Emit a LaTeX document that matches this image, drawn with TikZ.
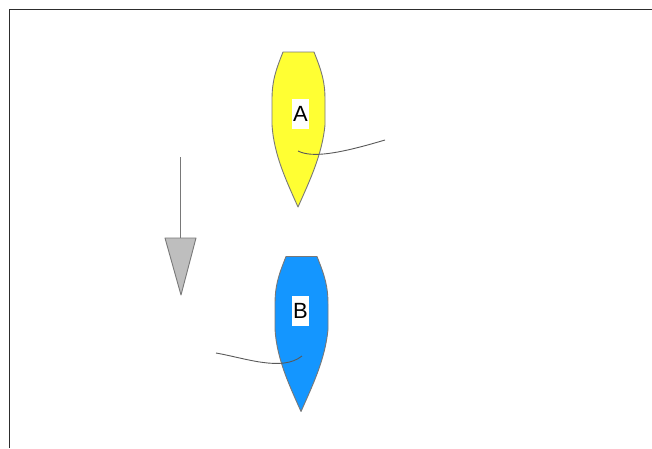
\documentclass[tikz,border=0pt]{standalone}
\usepackage{fontspec}
\setmainfont{Liberation Sans}
\definecolor{boatyellow}{RGB}{255,255,51}
\definecolor{boatblue}{RGB}{20,150,255}
\definecolor{edgegray}{RGB}{120,120,120}
\definecolor{arrowgray}{RGB}{190,190,190}
\definecolor{framegray}{RGB}{45,45,45}
\begin{document}
\begin{tikzpicture}[x=1pt,y=-1pt,
  hull/.style={draw=edgegray,line width=0.9pt,line join=round},
  boatlabel/.style={fill=white,inner sep=0pt,minimum width=17pt,minimum height=30pt,font=\fontsize{22}{22}\selectfont},
  tail/.style={draw=black!65,line width=0.9pt}]
\useasboundingbox (0,0) rectangle (652,448);
% frame
\draw[framegray,line width=1.8pt] (9.5,448) -- (9.5,9.5) -- (652,9.5);
% boat A
\path[hull,fill=boatyellow] (283,52) -- (314,52) .. controls (322,72) and (325,82) .. (325,100) -- (325,125)
  .. controls (322,155) and (310,180) .. (298,207)
  .. controls (286,180) and (274,155) .. (272,125) -- (272,100)
  .. controls (272,82) and (275,72) .. (283,52) -- cycle;
\node[boatlabel] (labA) at (300.5,114) {A};
\draw[tail] (298,151) .. controls (312,158) and (338,154) .. (385,140);
% boat B
\begin{scope}[shift={(3,204.5)}]
\path[hull,fill=boatblue] (283,52) -- (314,52) .. controls (322,72) and (325,82) .. (325,100) -- (325,125)
  .. controls (322,155) and (310,180) .. (298,207)
  .. controls (286,180) and (274,155) .. (272,125) -- (272,100)
  .. controls (272,82) and (275,72) .. (283,52) -- cycle;
\end{scope}
\node[boatlabel] (labB) at (300.5,311) {B};
\draw[tail] (216,353) .. controls (245,358) and (282,372) .. (302,356);
% wind arrow
\coordinate (wtop) at (180.5,157);
\coordinate (wbase) at (180.5,238);
\draw[edgegray,line width=1pt] (wtop) -- (wbase);
\draw[edgegray,fill=arrowgray,line width=0.9pt,line join=round] (165,238) -- (196,238) -- (181,295) -- cycle;
\end{tikzpicture}
\end{document}
